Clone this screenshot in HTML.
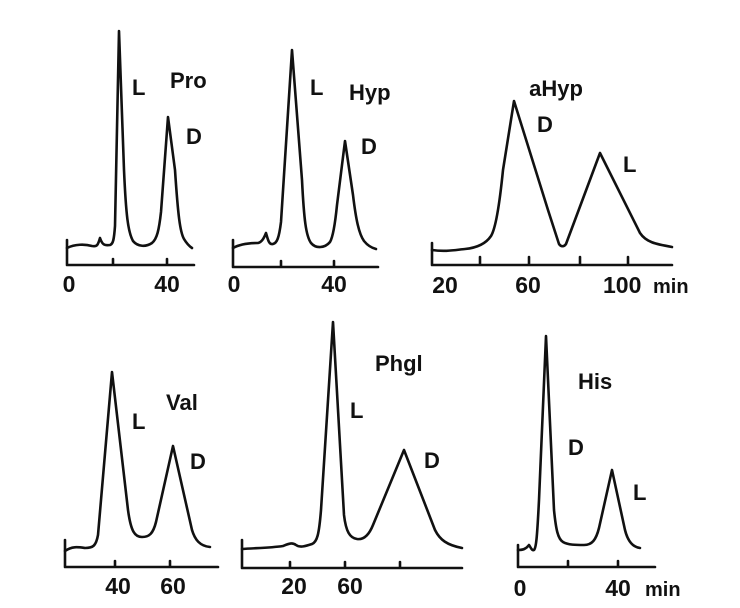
<!DOCTYPE html>
<html><head><meta charset="utf-8"><style>
html,body{margin:0;padding:0;background:#fff;}
svg{display:block;}
text{font-family:"Liberation Sans","DejaVu Sans",sans-serif;fill:#111;font-weight:bold;}
</style></head><body>
<svg width="740" height="608" viewBox="0 0 740 608" xmlns="http://www.w3.org/2000/svg">
<g fill="none" stroke="#111" stroke-width="2.6" stroke-linejoin="round" stroke-linecap="round">
<!-- Pro -->
<path d="M67,240 V265 H194 M113,265 V259 M167,265 V259"/>
<path d="M67,248 C75,244 85,244 92,246 C97,247 98,245 100,238 C102,244 104,246 110,245 C113,244 114,240 115,226 L119,31 L124,170 C126,215 128,232 133,241 C138,247 146,247 152,243 C157,239 159,230 161,212 L168,117 L175,170 C178,215 180,232 184,239 C187,244 189,246 192,248"/>
<!-- Hyp -->
<path d="M233,240 V267 H378 M281,267 V261 M334,267 V261"/>
<path d="M233,248 C240,244 250,243 258,243 C262,242 264,238 266,233 C268,240 269,245 273,244 C277,243 279,238 281,222 L292,50 L302,180 C304,220 306,236 311,243 C316,249 325,248 330,242 C333,237 335,225 337,205 L345,141 L353,195 C356,220 359,234 364,241 C368,246 372,248 376,249"/>
<!-- aHyp -->
<path d="M432,243 V265 H672 M480,265 V257 M529,265 V257 M580,265 V257 M628,265 V257"/>
<path d="M432,250 C445,252 455,250 465,249 C475,248 485,245 491,236 C496,228 500,200 503,170 L514,101 L548,210 L559,244 C561,247 564,247 566,244 L600,153 L640,233 C646,242 655,244 672,247"/>
<!-- Val -->
<path d="M65,540 V567 H218 M115,567 V561 M170,567 V561"/>
<path d="M65,551 C72,546 78,547 85,548 C93,548 96,546 98,535 L112,372 L128,510 C131,532 135,537 142,537 C149,537 153,534 156,522 L173,446 L192,530 C195,540 200,546 210,547"/>
<!-- Phgl -->
<path d="M242,549 C255,548 270,548 283,546 C288,544 292,542 296,545 C300,548 306,546 312,544 C317,542 319,535 321,510 L333,322 L344,515 C346,532 350,538 357,539 C364,540 369,535 373,525 L404,450 L435,530 C440,540 447,545 462,548"/>
<path d="M242,540 V568 H462 M290,568 V562 M345,568 V562 M400,568 V562"/>
<!-- His -->
<path d="M518,545 V567 H655 M568,567 V561 M618,567 V561"/>
<path d="M518,550 C523,550 526,549 529,545 C531,548 532,551 534,550 C536,548 537,540 539,500 L546,336 L554,510 C556,530 558,539 563,542 C568,545 576,545 584,545 C592,545 596,540 599,528 L612,470 L625,530 C628,542 633,547 640,548"/>
</g>
<g font-size="22">
<text x="132" y="95">L</text>
<text x="170" y="88">Pro</text>
<text x="186" y="144">D</text>
<text x="310" y="95">L</text>
<text x="349" y="100">Hyp</text>
<text x="361" y="154">D</text>
<text x="556" y="96" text-anchor="middle">aHyp</text>
<text x="537" y="132">D</text>
<text x="623" y="172">L</text>
<text x="132" y="429">L</text>
<text x="166" y="410">Val</text>
<text x="190" y="469">D</text>
<text x="350" y="418">L</text>
<text x="375" y="371">Phgl</text>
<text x="424" y="468">D</text>
<text x="568" y="455">D</text>
<text x="578" y="389">His</text>
<text x="633" y="500">L</text>
</g>
<g font-size="23">
<text x="69" y="292" text-anchor="middle">0</text>
<text x="167" y="292" text-anchor="middle">40</text>
<text x="234" y="292" text-anchor="middle">0</text>
<text x="334" y="292" text-anchor="middle">40</text>
<text x="445" y="293" text-anchor="middle">20</text>
<text x="528" y="293" text-anchor="middle">60</text>
<text x="603" y="293">100</text>
<text x="118" y="594" text-anchor="middle">40</text>
<text x="173" y="594" text-anchor="middle">60</text>
<text x="294" y="594" text-anchor="middle">20</text>
<text x="350" y="594" text-anchor="middle">60</text>
<text x="520" y="596" text-anchor="middle">0</text>
<text x="618" y="596" text-anchor="middle">40</text>
</g>
<g font-size="20">
<text x="653" y="293">min</text>
<text x="645" y="596">min</text>
</g>
</svg>
</body></html>
